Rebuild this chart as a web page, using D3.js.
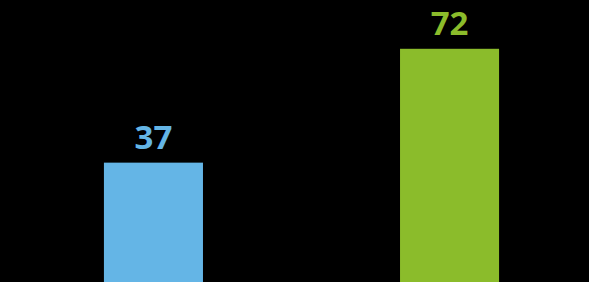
<!DOCTYPE html>
<html>
<head>
<meta charset="utf-8">
<script src="https://cdn.jsdelivr.net/npm/d3@7"></script>
<style>
  html, body { margin: 0; padding: 0; background: #000; }
  svg { display: block; }
</style>
</head>
<body>
<div id="chart"></div>
<script>
const categories = ['A', 'B'];
const values = [37, 72];
const colors = ['#64B5E6', '#8BBC2B'];

const width = 589;
const height = 282;

const svg = d3.select('#chart')
  .append('svg')
  .attr('width', width)
  .attr('height', height)
  .style('background', '#000');

const x = d3.scaleBand()
  .domain(categories)
  .range([0, 603])
  .paddingInner(0.6655)
  .paddingOuter(0.351);

const y = d3.scaleLinear()
  .domain([0, 87])
  .range([283, 0]);

const data = categories.map((c, i) => ({ cat: c, value: values[i], color: colors[i] }));

// bars
svg.append('g')
  .selectAll('rect')
  .data(data)
  .join('rect')
  .attr('x', d => x(d.cat))
  .attr('y', d => y(d.value))
  .attr('width', x.bandwidth())
  .attr('height', d => y(0) - y(d.value))
  .attr('fill', d => d.color);

// value labels
svg.append('g')
  .selectAll('text')
  .data(data)
  .join('text')
  .attr('x', d => x(d.cat) + x.bandwidth() / 2)
  .attr('y', d => y(d.value) - 13.5)
  .attr('text-anchor', 'middle')
  .attr('font-family', '"Open Sans", sans-serif')
  .attr('font-weight', 'bold')
  .attr('font-size', '33px')
  .attr('fill', d => d.color)
  .text(d => d.value);
</script>
</body>
</html>
